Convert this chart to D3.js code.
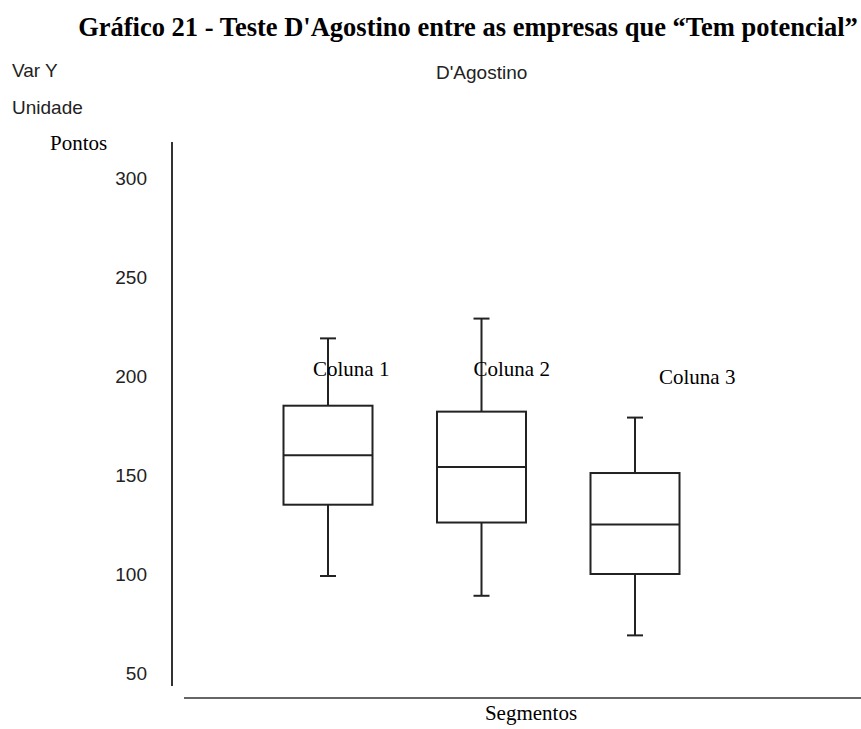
<!DOCTYPE html>
<html>
<head>
<meta charset="utf-8">
<script src="https://cdn.jsdelivr.net/npm/d3@7"></script>
<style>
  body { margin: 0; background: #fff; }
  .serif { font-family: "Liberation Serif", "Times New Roman", serif; }
  .sans { font-family: "Liberation Sans", Arial, sans-serif; }
</style>
</head>
<body>
<div id="canvas"></div>
<script>
"use strict";

/* Data: box plot summaries per column */
let columns = ["Coluna 1", "Coluna 2", "Coluna 3"];
let whiskerLow = [99, 89, 69];
let quartile1 = [135, 126, 100];
let medians = [160, 154, 125];
let quartile3 = [185, 182, 151];
let whiskerHigh = [219, 229, 179];
let yTicks = [50, 100, 150, 200, 250, 300];

/* Drawing config */
let svgWidth = 861;
let svgHeight = 729;
let boxWidth = 89;
let capWidth = 16;
// label offsets from the box centre (the labels float around a bit in the original)
let labelDx = [-15, -8, 24];
let labelDy = [0, 0, 8];

let svg = d3.select("#canvas")
  .append("svg")
  .attr("width", svgWidth)
  .attr("height", svgHeight);

let yScale = d3.scaleLinear()
  .domain([50, 300])
  .range([673, 178]);

let xScale = d3.scalePoint()
  .domain(columns)
  .range([328, 635]);

/* Title */
svg.append("text")
  .attr("class", "serif")
  .attr("x", 468)
  .attr("y", 36)
  .attr("text-anchor", "middle")
  .attr("font-weight", "bold")
  .attr("font-size", "26.5px")
  .text("Gráfico 21 - Teste D'Agostino entre as empresas que “Tem potencial”");

/* Header texts */
svg.append("text").attr("class", "sans")
  .attr("x", 12).attr("y", 77).attr("font-size", "19px").attr("fill", "#222")
  .text("Var Y");
svg.append("text").attr("class", "sans")
  .attr("x", 12).attr("y", 114).attr("font-size", "19px").attr("fill", "#222")
  .text("Unidade");
svg.append("text").attr("class", "sans")
  .attr("x", 436).attr("y", 79).attr("font-size", "19px").attr("fill", "#222")
  .text("D'Agostino");
svg.append("text").attr("class", "serif")
  .attr("x", 50).attr("y", 150).attr("font-size", "21px")
  .text("Pontos");

/* Y axis: just the line and numbers, no ticks */
let yAxis = d3.axisLeft(yScale)
  .tickValues(yTicks)
  .tickSize(0)
  .tickPadding(0);

let yAxisG = svg.append("g")
  .attr("transform", "translate(147,0)")
  .call(yAxis);
yAxisG.select(".domain").remove();
yAxisG.selectAll("text")
  .attr("class", "sans")
  .attr("font-size", "19px")
  .attr("fill", "#222");

svg.append("line")
  .attr("x1", 172).attr("x2", 172)
  .attr("y1", 142).attr("y2", 686)
  .attr("stroke", "#333").attr("stroke-width", 2);

/* X axis line */
svg.append("line")
  .attr("x1", 184).attr("x2", 861)
  .attr("y1", 698).attr("y2", 698)
  .attr("stroke", "#333").attr("stroke-width", 1.5);

svg.append("text").attr("class", "serif")
  .attr("x", 531).attr("y", 720)
  .attr("text-anchor", "middle")
  .attr("font-size", "21px")
  .text("Segmentos");

/* Boxes */
let boxes = svg.selectAll(".box")
  .data(columns)
  .enter()
  .append("g")
  .attr("class", "box");

let stroke = "#222";

// whisker stems
boxes.append("line")
  .attr("x1", function (d) { return xScale(d); })
  .attr("x2", function (d) { return xScale(d); })
  .attr("y1", function (d, i) { return yScale(whiskerHigh[i]); })
  .attr("y2", function (d, i) { return yScale(whiskerLow[i]); })
  .attr("stroke", stroke).attr("stroke-width", 2);

// caps
[whiskerHigh, whiskerLow].forEach(function (arr) {
  boxes.append("line")
    .attr("x1", function (d) { return xScale(d) - capWidth / 2; })
    .attr("x2", function (d) { return xScale(d) + capWidth / 2; })
    .attr("y1", function (d, i) { return yScale(arr[i]); })
    .attr("y2", function (d, i) { return yScale(arr[i]); })
    .attr("stroke", stroke).attr("stroke-width", 2);
});

// box
boxes.append("rect")
  .attr("x", function (d) { return xScale(d) - boxWidth / 2; })
  .attr("y", function (d, i) { return yScale(quartile3[i]); })
  .attr("width", boxWidth)
  .attr("height", function (d, i) { return yScale(quartile1[i]) - yScale(quartile3[i]); })
  .attr("fill", "#fff")
  .attr("stroke", stroke).attr("stroke-width", 2);

// median
boxes.append("line")
  .attr("x1", function (d) { return xScale(d) - boxWidth / 2; })
  .attr("x2", function (d) { return xScale(d) + boxWidth / 2; })
  .attr("y1", function (d, i) { return yScale(medians[i]); })
  .attr("y2", function (d, i) { return yScale(medians[i]); })
  .attr("stroke", stroke).attr("stroke-width", 2);

// column labels, drawn on top of the whiskers
boxes.append("text")
  .attr("class", "serif")
  .attr("x", function (d, i) { return xScale(d) + labelDx[i]; })
  .attr("y", function (d, i) { return 376 + labelDy[i]; })
  .attr("font-size", "21px")
  .text(function (d) { return d; });
</script>
</body>
</html>
